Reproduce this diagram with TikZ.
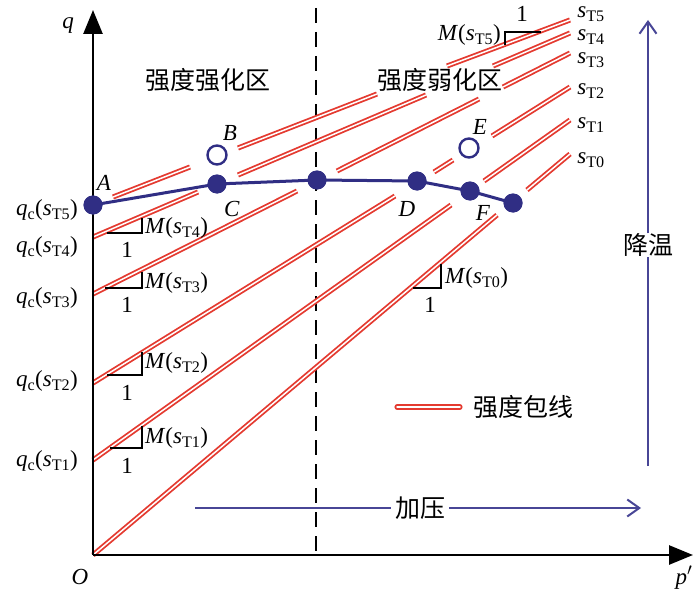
\documentclass[tikz,border=0pt]{standalone}
\usepackage{fontspec}
\setmainfont{Liberation Serif}
\newfontfamily\cjk{Noto Sans CJK SC}
\usetikzlibrary{arrows.meta}
\definecolor{envred}{RGB}{228,58,48}
\definecolor{pathblue}{RGB}{48,46,132}
\definecolor{arrblue}{RGB}{72,70,150}
\newcommand{\sT}[1]{\textit{s}\textsubscript{T#1}}
\newcommand{\qc}[1]{\textit{q}\textsubscript{c}(\sT{#1})}
\newcommand{\Ms}[1]{\textit{M}(\sT{#1})}
\tikzset{
  env/.style={draw=envred, double=white, double distance=1.5pt, line width=1.8pt},
  axis/.style={line width=2.6pt, -{Triangle[length=24pt,width=19pt]}},
  lbl/.style={font=\fontsize{23}{25}\selectfont, inner sep=0pt},
  cjklbl/.style={font=\cjk\fontsize{25}{27}\selectfont, inner sep=0pt},
  tri/.style={line width=1.5pt, line join=miter},
  bluepath/.style={draw=pathblue, line width=3pt},
  dot/.style={circle, fill=pathblue, minimum size=19pt, inner sep=0pt},
  odot/.style={circle, draw=pathblue, line width=2.4pt, minimum size=19pt, inner sep=0pt, fill=white},
  barr/.style={draw=arrblue, line width=2pt, -{Straight Barb[length=12pt,width=17pt,line width=2pt]}},
}
\begin{document}
\begin{tikzpicture}[x=1pt,y=-1pt]
\useasboundingbox (0,0) rectangle (700,596);
% key coordinates
\coordinate (O) at (93,555);
\coordinate (ytip) at (93,10);
\coordinate (xtip) at (693,555);
% dashed divider
\coordinate (dtop) at (316,8);
\coordinate (dbot) at (316,555);
\draw[line width=2.6pt, dash pattern=on 15pt off 9pt] (dtop) -- (dbot);
% strength envelopes (s_T0 ... s_T5)
% sT0
\draw[env] (93,555) -- (497,215);
\draw[env] (527,190) -- (570,154);
% sT1
\draw[env] (93,460) -- (451,205);
\draw[env] (484,181) -- (570,120);
% sT2
\draw[env] (93,383) -- (395,196);
\draw[env] (434,172) -- (453,160);
\draw[env] (492,136) -- (570,87);
% sT3
\draw[env] (93,294) -- (297,191);
\draw[env] (337,171) -- (479,99);
\draw[env] (503,87) -- (570,53);
% sT4
\draw[env] (93,237) -- (198,192);
\draw[env] (238,175) -- (426,95);
\draw[env] (493,66) -- (570,33);
% sT5
\draw[env] (113,197) -- (190,167);
\draw[env] (238,148) -- (377,94);
\draw[env] (447,66) -- (570,20);
% axes
\draw[axis] (O) -- (ytip);
\draw[axis] (O) -- (xtip);
\node[lbl] (qlab) at (68,26) {\textit{q}};
\node[lbl] (Olab) at (80,577) {\textit{O}};
\node[lbl] (plab) at (684,578) {\textit{p}$'$};
% slope triangles
\draw[tri] (107,233) -- (142,233) -- (142,218);
\draw[tri] (105,288) -- (142,288) -- (142,272);
\draw[tri] (107,375) -- (142,375) -- (142,352);
\draw[tri] (110,448) -- (142,448) -- (142,426);
\draw[tri] (413,288) -- (441,288) -- (441,264);
\draw[tri] (505,45) -- (505,32) -- (541,32);
\node[lbl, anchor=west] (m4) at (145,228) {\Ms{4}};
\node[lbl, anchor=west] (m3) at (145,283) {\Ms{3}};
\node[lbl, anchor=west] (m2) at (145,363) {\Ms{2}};
\node[lbl, anchor=west] (m1) at (145,438) {\Ms{1}};
\node[lbl, anchor=west] (m0) at (445,278) {\Ms{0}};
\node[lbl, anchor=east] (m5) at (501,35) {\Ms{5}};
\node[lbl] (one4) at (127,250) {1};
\node[lbl] (one3) at (127,305) {1};
\node[lbl] (one2) at (127,393) {1};
\node[lbl] (one1) at (127,466) {1};
\node[lbl] (one0) at (430,305) {1};
\node[lbl] (one5) at (522,14) {1};
% q_c labels
\node[lbl] (qc5) at (47,210) {\qc{5}};
\node[lbl] (qc4) at (47,247) {\qc{4}};
\node[lbl] (qc3) at (47,298) {\qc{3}};
\node[lbl] (qc2) at (47,381) {\qc{2}};
\node[lbl] (qc1) at (47,461) {\qc{1}};
% s_T labels
\node[lbl] (s5) at (591,14) {\sT{5}};
\node[lbl] (s4) at (591,37) {\sT{4}};
\node[lbl] (s3) at (591,60) {\sT{3}};
\node[lbl] (s2) at (591,91) {\sT{2}};
\node[lbl] (s1) at (591,125) {\sT{1}};
\node[lbl] (s0) at (591,160) {\sT{0}};
% region labels
\node[cjklbl] (zone1) at (208,80) {强度强化区};
\node[cjklbl] (zone2) at (440,80) {强度弱化区};
% stress path
\node[dot] (A) at (93,205) {};
\node[dot] (C) at (217,184) {};
\node[dot] (P) at (317,180) {};
\node[dot] (D) at (417,181) {};
\node[dot] (F) at (470,191) {};
\node[dot] (G) at (513,203) {};
\draw[bluepath] (A.center) -- (C.center) -- (P.center) -- (D.center) -- (F.center) -- (G.center);
\node[dot] at (A) {};
\node[dot] at (C) {};
\node[dot] at (P) {};
\node[dot] at (D) {};
\node[dot] at (F) {};
\node[dot] at (G) {};
\node[odot] (B) at (217,155) {};
\node[odot] (E) at (469,148) {};
\node[lbl] (Alab) at (104,183) {\textit{A}};
\node[lbl] (Blab) at (230,133) {\textit{B}};
\node[lbl] (Clab) at (232,209) {\textit{C}};
\node[lbl] (Dlab) at (407,209) {\textit{D}};
\node[lbl] (Elab) at (480,127) {\textit{E}};
\node[lbl] (Flab) at (483,213) {\textit{F}};
% legend
\coordinate (lg1) at (397,407);
\coordinate (lg2) at (460,407);
\draw[env, line cap=round] (lg1) -- (lg2);
\node[cjklbl, anchor=west] (lgt) at (473,407) {强度包线};
% cooling arrow
\node[cjklbl] (cool) at (648,245) {降温};
\coordinate (cb) at (648,466);
\coordinate (ct) at (648,20);
\draw[draw=arrblue, line width=2pt] (cb) -- (cool.south);
\draw[barr] (cool.north) -- (ct);
% loading arrow
\node[cjklbl] (load) at (420,508) {加压};
\coordinate (la) at (195,508);
\coordinate (lb) at (641,508);
\draw[draw=arrblue, line width=2pt] (la) -- ([xshift=-4pt]load.west);
\draw[barr] ([xshift=4pt]load.east) -- (lb);
\end{tikzpicture}
\end{document}
